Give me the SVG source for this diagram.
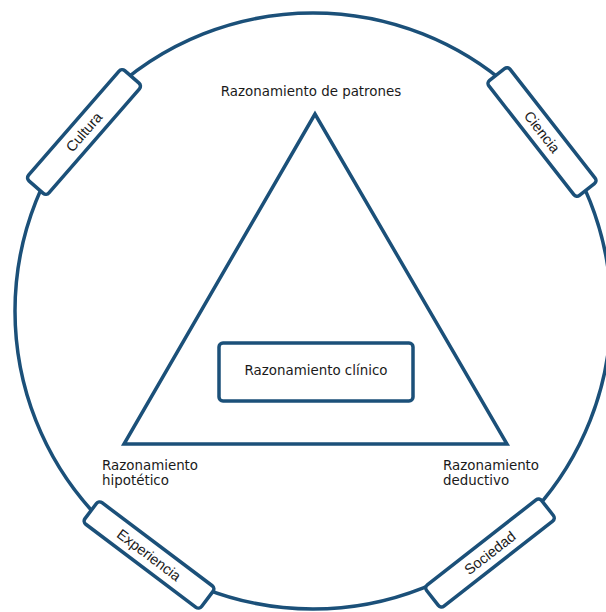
<svg xmlns="http://www.w3.org/2000/svg" width="606" height="612" viewBox="0 0 606 612">
<style>
.ln{fill:none;stroke:#1b5079;stroke-width:3.5}
.bx{fill:#fff;stroke:#1b5079;stroke-width:3.5}
.lab{font-family:"DejaVu Sans",Verdana,sans-serif;font-size:13.4px;fill:#1a1a1a}
.blab{font-family:"Liberation Sans",Arial,sans-serif;font-size:14.5px;fill:#1a1a1a;text-anchor:middle;dominant-baseline:central}
</style>
<rect width="606" height="612" fill="#fff"/>
<g id="connectors">
<circle class="ln" cx="313" cy="311" r="298"/>
<polygon class="ln" points="315,114 124,444 507,444" stroke-linejoin="miter" stroke-width="4"/>
</g>
<g id="clinico">
<rect class="bx" x="219" y="343" width="194" height="58" rx="4"/>
<text class="lab" x="316" y="375" text-anchor="middle">Razonamiento clínico</text>
</g>
<g id="patrones">
<text class="lab" x="311" y="96" text-anchor="middle">Razonamiento de patrones</text>
</g>
<g id="hipotetico">
<text class="lab" x="102" y="470">Razonamiento</text>
<text class="lab" x="102" y="485">hipotético</text>
</g>
<g id="deductivo">
<text class="lab" x="443" y="470">Razonamiento</text>
<text class="lab" x="443" y="485">deductivo</text>
</g>
<g id="cultura" transform="translate(84,132) rotate(-49)">
<rect class="bx" x="-73" y="-13.5" width="146" height="27" rx="4"/>
<text class="blab" x="0" y="0">Cultura</text>
</g>
<g id="ciencia" transform="translate(542,132) rotate(52)">
<rect class="bx" x="-73" y="-13.5" width="146" height="27" rx="4"/>
<text class="blab" x="0" y="0">Ciencia</text>
</g>
<g id="experiencia" transform="translate(149,555) rotate(37)">
<rect class="bx" x="-73" y="-13.5" width="146" height="27" rx="4"/>
<text class="blab" x="0" y="0">Experiencia</text>
</g>
<g id="sociedad" transform="translate(490,553) rotate(-38)">
<rect class="bx" x="-73" y="-13.5" width="146" height="27" rx="4"/>
<text class="blab" x="0" y="0">Sociedad</text>
</g>
</svg>
